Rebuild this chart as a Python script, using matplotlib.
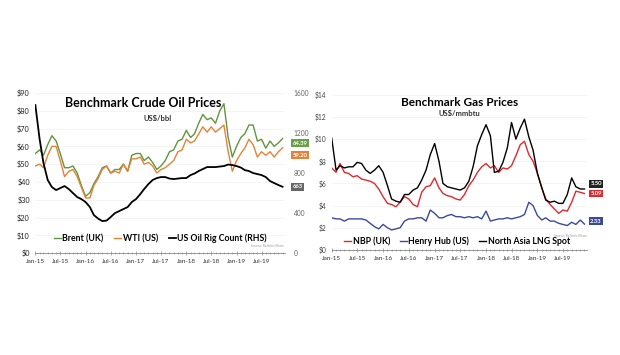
import numpy as np
import pandas as pd
import matplotlib
matplotlib.use('Agg')
import matplotlib.pyplot as plt
import matplotlib.dates as mdates
from matplotlib.ticker import FuncFormatter

plt.rcParams['font.family'] = ['Lato', 'DejaVu Sans']

# monthly values, Jan-15 .. Dec-19
months = pd.date_range('2015-01-01', periods=60, freq='MS')

brent = [56, 58, 55, 61, 66, 63, 56, 48, 48, 49, 45, 38,
         32, 34, 39, 43, 48, 49, 45, 47, 47, 50, 46, 55,
         56, 56, 52, 54, 51, 47, 49, 52, 57, 58, 63, 64,
         69, 65, 67, 73, 78, 75, 76, 73, 80, 84, 65, 54,
         60, 65, 67, 72, 72, 63, 64, 59, 63, 60, 62, 64.39]
wti = [49, 50, 48, 55, 60, 60, 52, 43, 46, 47, 43, 37,
       31, 31, 38, 42, 47, 49, 45, 46, 45, 50, 46, 53,
       53, 54, 50, 51, 49, 45, 47, 48, 50, 52, 57, 58,
       64, 62, 63, 67, 71, 68, 71, 68, 70, 72, 57, 46,
       52, 56, 59, 64, 61, 54, 57, 55, 57, 54, 57, 59.20]
rigs = [1480, 1140, 900, 730, 660, 630, 650, 670, 640, 600, 560, 540,
        510, 460, 380, 345, 320, 325, 360, 400, 420, 440, 460, 510,
        540, 590, 640, 690, 730, 750, 760, 760, 745, 740, 745, 750,
        750, 780, 795, 820, 840, 860, 860, 860, 865, 870, 885, 880,
        870, 855, 830, 820, 800, 790, 780, 760, 720, 700, 680, 663]

lng = [10.1, 7.2, 7.6, 7.4, 7.5, 7.5, 7.9, 7.8, 7.2, 6.9, 7.2, 7.6,
       7.0, 5.8, 4.6, 4.4, 4.3, 5.0, 5.0, 5.4, 5.6, 6.3, 7.2, 8.6,
       9.6, 8.0, 6.0, 5.7, 5.6, 5.5, 5.4, 5.6, 6.2, 7.5, 9.4, 10.4,
       11.3, 10.3, 7.0, 7.1, 7.9, 9.2, 11.5, 10.0, 11.0, 11.8, 10.2, 9.0,
       6.9, 5.6, 4.5, 4.3, 4.4, 4.2, 4.2, 5.0, 6.5, 5.7, 5.5, 5.50]
nbp = [7.4, 7.0, 7.8, 7.0, 6.9, 6.6, 6.7, 6.4, 6.3, 6.2, 6.0, 5.5,
       4.8, 4.2, 4.1, 3.9, 4.3, 4.8, 4.6, 4.1, 3.9, 5.2, 5.7, 5.8,
       6.5, 5.6, 5.1, 4.9, 4.8, 4.6, 4.5, 5.0, 5.8, 6.3, 7.0, 7.5,
       7.8, 7.4, 7.6, 7.0, 7.4, 7.3, 7.6, 8.5, 9.5, 9.8, 8.6, 8.0,
       6.9, 5.6, 4.6, 4.1, 3.7, 3.3, 3.6, 3.5, 4.3, 5.3, 5.2, 5.09]
henry = [2.9, 2.8, 2.8, 2.6, 2.8, 2.8, 2.8, 2.8, 2.7, 2.4, 2.1, 1.9,
         2.3, 2.0, 1.8, 1.9, 2.0, 2.6, 2.8, 2.8, 2.9, 2.9, 2.6, 3.6,
         3.3, 2.9, 2.9, 3.1, 3.2, 3.0, 3.0, 2.9, 3.0, 2.9, 3.0, 2.8,
         3.5, 2.6, 2.7, 2.8, 2.8, 2.9, 2.8, 2.9, 3.0, 3.2, 4.3, 4.0,
         3.1, 2.7, 2.9, 2.6, 2.6, 2.4, 2.3, 2.2, 2.5, 2.3, 2.7, 2.33]

GREEN = '#5f963c'
ORANGE = '#e5823a'
RED = '#dc2a2f'
BLUE = '#3b4a98'


def style_time_axis(ax):
    ax.set_xlim(pd.Timestamp('2015-01-01'), pd.Timestamp('2019-12-20'))
    ax.xaxis.set_major_locator(mdates.MonthLocator(bymonth=[1, 7]))
    ax.xaxis.set_minor_locator(mdates.MonthLocator())
    ax.xaxis.set_major_formatter(mdates.DateFormatter('%b-%y'))
    ax.tick_params(axis='x', which='major', labelsize=4.6, length=2.5, width=0.5,
                   color='#888888', direction='inout', labelcolor='#333333', pad=3)
    ax.tick_params(axis='x', which='minor', length=1.5, width=0.4,
                   color='#888888', direction='inout')
    for side in ['top', 'right', 'left']:
        ax.spines[side].set_visible(False)
    ax.spines['bottom'].set_color('#888888')
    ax.spines['bottom'].set_linewidth(0.6)
    ax.grid(axis='y', color='#f0f0f0', linewidth=0.5)
    ax.set_axisbelow(True)


def value_box(ax, y, text, color, x=1.012):
    ax.text(x, y, text, transform=ax.get_yaxis_transform(), fontsize=4.2,
            fontweight='bold', color='white', va='center', ha='left',
            bbox=dict(boxstyle='square,pad=0.25', fc=color, ec='none'))


fig = plt.figure(figsize=(6.2, 3.55), dpi=100)

# ---- crude oil ----
ax1 = fig.add_axes([0.057, 0.287, 0.403, 0.451])
ax1r = ax1.twinx()
style_time_axis(ax1)
ax1r.spines[:].set_visible(False)
ax1.plot(months, brent, color=GREEN, lw=1.0, label='Brent (UK)')
ax1.plot(months, wti, color=ORANGE, lw=1.0, label='WTI (US)')
ax1r.plot(months, rigs, color='black', lw=1.3, label='US Oil Rig Count (RHS)')
ax1.set_ylim(0, 90)
ax1.set_yticks(np.arange(0, 91, 10))
ax1.yaxis.set_major_formatter(FuncFormatter(lambda v, p: '${:.0f}'.format(v)))
ax1.tick_params(axis='y', length=0, labelsize=5.2, labelcolor='#222222', pad=4)
ax1r.set_ylim(0, 1600)
ax1r.set_yticks([0, 400, 800, 1200, 1600])
ax1r.tick_params(axis='y', length=0, labelsize=4.8, labelcolor='#666666', pad=6)

ax1.text(0.43, 0.935, 'Benchmark Crude Oil Prices', transform=ax1.transAxes,
         ha='center', va='center', fontsize=9, fontweight='bold')
ax1.text(0.49, 0.84, 'US$/bbl', transform=ax1.transAxes, ha='center',
         va='center', fontsize=5.5, fontweight='bold', color='#333333')
ax1.text(0.995, 0.035, 'Source: Refinitiv Eikon', transform=ax1.transAxes,
         ha='right', va='bottom', fontsize=2.3, color='#999999')

h1, l1 = ax1.get_legend_handles_labels()
h2, l2 = ax1r.get_legend_handles_labels()
leg = ax1.legend(h1 + h2, l1 + l2, loc='center', bbox_to_anchor=(0.5, 0.09),
                 ncol=3, frameon=False, fontsize=6.3, handlelength=0.8,
                 handletextpad=0.2, columnspacing=1.2)
for t in leg.get_texts():
    t.set_fontweight('bold')

value_box(ax1r, 1100, '{:.2f}'.format(brent[-1]), '#6a9f45', x=1.03)
value_box(ax1r, 980, '{:.2f}'.format(wti[-1]), ORANGE, x=1.03)
value_box(ax1r, rigs[-1], '{:.0f}'.format(rigs[-1]), '#666666', x=1.03)
ax1r.set_zorder(ax1.get_zorder() + 1)
ax1r.patch.set_visible(False)

# ---- gas ----
ax2 = fig.add_axes([0.535, 0.296, 0.412, 0.437])
style_time_axis(ax2)
ax2.plot(months, nbp, color=RED, lw=1.0, label='NBP (UK)')
ax2.plot(months, henry, color=BLUE, lw=1.0, label='Henry Hub (US)')
ax2.plot(months, lng, color='black', lw=1.0, label='North Asia LNG Spot')
ax2.set_ylim(0, 14)
ax2.set_yticks(np.arange(0, 15, 2))
ax2.yaxis.set_major_formatter(FuncFormatter(lambda v, p: '${:.0f}'.format(v)))
ax2.tick_params(axis='y', length=0, labelsize=4.8, labelcolor='#444444', pad=4)

ax2.text(0.5, 0.95, 'Benchmark Gas Prices', transform=ax2.transAxes,
         ha='center', va='center', fontsize=8.5, fontweight='bold')
ax2.text(0.5, 0.88, 'US$/mmbtu', transform=ax2.transAxes, ha='center',
         va='center', fontsize=5.5, fontweight='bold', color='#333333')
ax2.text(0.998, 0.075, 'Source: Refinitiv Eikon', transform=ax2.transAxes,
         ha='right', va='bottom', fontsize=2.3, color='#999999')
leg2 = ax2.legend(loc='center', bbox_to_anchor=(0.49, 0.055), ncol=3,
                  frameon=False, fontsize=6.3, handlelength=0.8,
                  handletextpad=0.2, columnspacing=1.1)
for t in leg2.get_texts():
    t.set_fontweight('bold')

value_box(ax2, lng[-1] + 0.45, '{:.2f}'.format(lng[-1]), '#222222')
value_box(ax2, nbp[-1], '{:.2f}'.format(nbp[-1]), RED)
value_box(ax2, henry[-1] + 0.25, '{:.2f}'.format(henry[-1]), BLUE)

fig.savefig('out.png', dpi=100)
